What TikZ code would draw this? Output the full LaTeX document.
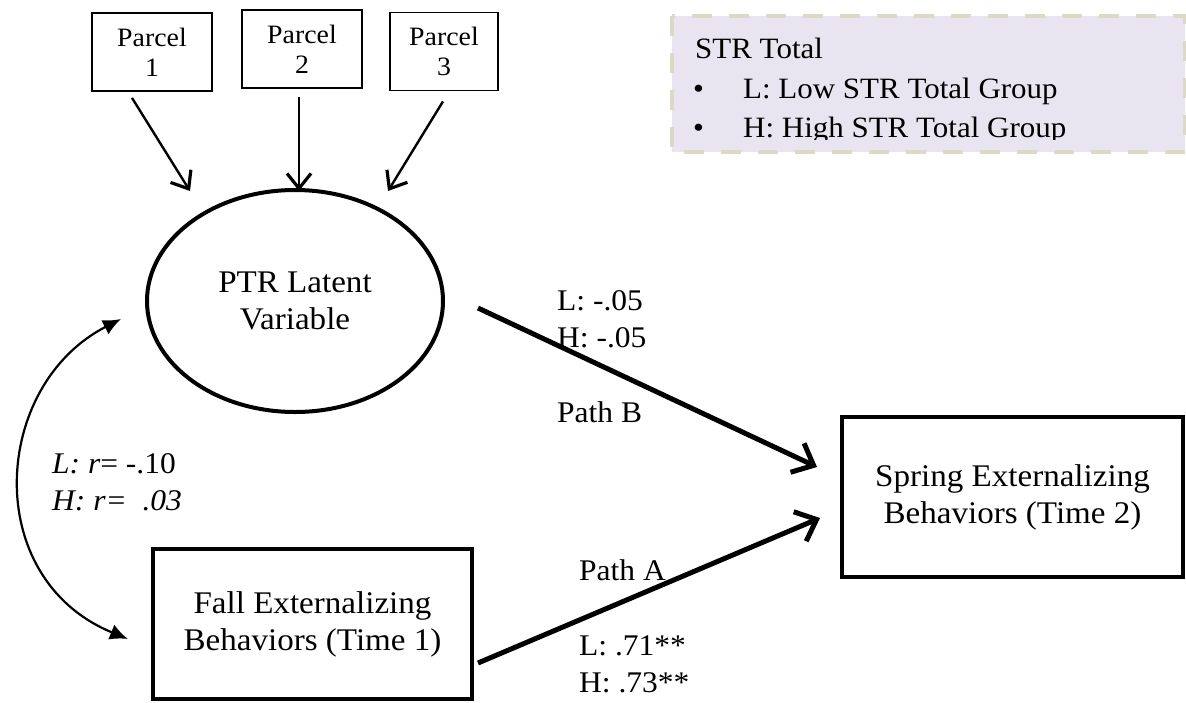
\documentclass[tikz,border=0pt]{standalone}
\usepackage{fontspec}
\setmainfont[FakeStretch=1.05]{Liberation Serif}
\usetikzlibrary{shapes.geometric,arrows.meta}
\definecolor{legendfill}{HTML}{E9E5F0}
\definecolor{legenddash}{HTML}{DCDAC6}
\tikzset{
  parcelbox/.style={draw, line width=1.8pt, minimum width=#1, minimum height=78pt,
    inner sep=0pt, align=center, font=\fontsize{26.5}{30}\selectfont},
  varbox/.style={draw, line width=4pt, inner sep=0pt, align=center,
    font=\fontsize{31.5}{37}\selectfont},
  latent/.style={ellipse, draw, line width=4pt, minimum width=296pt, minimum height=222pt,
    inner sep=0pt, align=center, font=\fontsize{31.5}{37}\selectfont},
  loading/.style={line width=2.4pt, -{Straight Barb[length=15pt,width=24pt,line width=3.2pt]}},
  regpath/.style={line width=5pt, -{Straight Barb[length=18pt,width=32pt]}},
  corr/.style={line width=2.2pt, {Latex[length=18pt,width=16pt]}-{Latex[length=18pt,width=16pt]}},
  lbl/.style={anchor=base west, inner sep=0pt, font=\fontsize{30}{36}\selectfont},
  legendtxt/.style={anchor=base west, inner sep=0pt, font=\fontsize{29.5}{36}\selectfont}
}
\begin{document}
\begin{tikzpicture}[x=1pt,y=-1pt]
\useasboundingbox (0,0) rectangle (1186,702);

% legend panel
\fill[legendfill] (672,16) rectangle (1185,152);
\draw[legenddash, line width=3.5pt, dash pattern=on 20pt off 17pt] (672,16) rectangle (1185,152);
\node[legendtxt] (lgtitle) at (695,58) {STR Total};
\node[legendtxt] (lgb1) at (693,98) {•};
\node[legendtxt] (lgl) at (743,98) {L: Low STR Total Group};
\begin{scope}
  \clip (672,100) rectangle (1185,139);
  \node[legendtxt] (lgb2) at (693,137) {•};
  \node[legendtxt] (lgh) at (743,137) {H: High STR Total Group};
\end{scope}

% indicators
\node[parcelbox=120pt] (p1) at (152,52) {Parcel\\1};
\node[parcelbox=120pt] (p2) at (302,49) {Parcel\\2};
\node[parcelbox=108pt] (p3) at (444,51.5) {Parcel\\3};

% latent variable and observed variables
\node[latent] (ptr) at (295,301) {PTR Latent\\Variable};
\node[varbox, minimum width=319pt, minimum height=150pt] (fall) at (312.5,624) {Fall Externalizing\\Behaviors (Time 1)};
\node[varbox, minimum width=341pt, minimum height=160pt] (spring) at (1012.5,497) {Spring Externalizing\\Behaviors (Time 2)};

% loadings
\coordinate (t1) at (190,191);
\coordinate (t2) at (299,191);
\coordinate (t3) at (388,191);
\draw[loading] (p1.south -| 132,0) ++(0,6) -- (t1);
\draw[loading] (p2.south -| 299,0) ++(0,8) -- (t2);
\draw[loading] (p3.south -| 443,0) ++(0,10) -- (t3);

% structural paths
\coordinate (bstart) at (478,308);
\coordinate (bend) at (817,467);
\coordinate (astart) at (478,663);
\coordinate (aend) at (820,518);
\draw[regpath] (bstart) -- (bend);
\draw[regpath] (astart) -- (aend);

% correlation
\coordinate (cu) at (121,319);
\coordinate (cl) at (128,639);
\draw[corr] (cu) .. controls (-8,385) and (-20,578) .. (cl);

% labels
\node[lbl] (lb1) at (557,310) {L: -.05};
\node[lbl] (lb2) at (557,347) {H: -.05};
\node[lbl] (lbp) at (557,422) {Path B};
\node[lbl] (lap) at (579,580) {Path A};
\node[lbl] (la1) at (579,655) {L: .71**};
\node[lbl] (la2) at (579,692) {H: .73**};
\node[lbl, font=\fontsize{30}{36}\selectfont\itshape] (rl) at (52,473) {L: r\upshape= -.10};
\node[lbl, font=\fontsize{30}{36}\selectfont\itshape] (rh) at (52,510) {H: r=\ \ .03};
\end{tikzpicture}
\end{document}
